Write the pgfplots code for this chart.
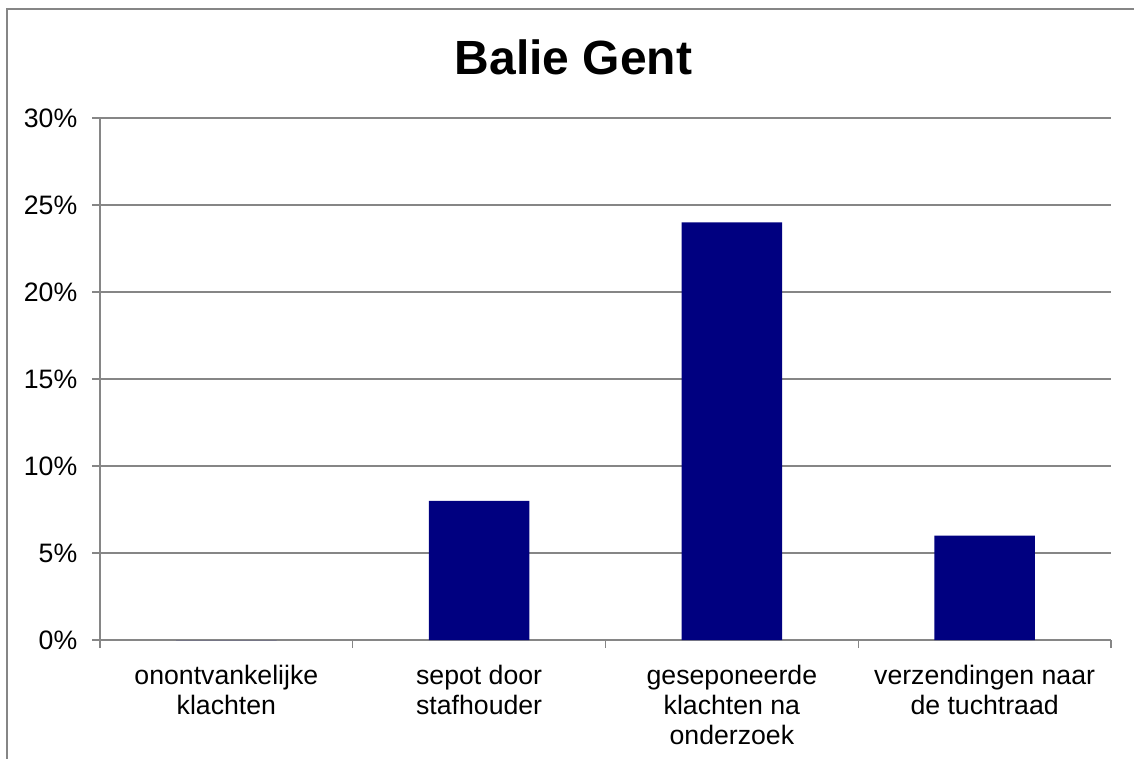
\documentclass[border=0pt]{standalone}
\usepackage{fontspec}
\setmainfont{Liberation Sans}
\usepackage{pgfplots}
\pgfplotsset{compat=1.18}
\definecolor{barnavy}{RGB}{0,0,128}
\definecolor{gridgray}{RGB}{134,134,134}
\begin{document}
\begin{tikzpicture}[x=0.375pt,y=0.375pt]
\useasboundingbox (0,0) rectangle (1134,758);
\draw[gridgray, line width=0.5pt] (7,-20) -- (7,749) -- (1160,749);
\node[font=\fontsize{18}{21}\selectfont\bfseries, anchor=base] at (573.5,683) {Balie Gent};
\begin{axis}[
    at={(37.5pt,44.25pt)}, anchor=south west,
    scale only axis,
    width=379.125pt, height=195.75pt,
    xmin=-0.5, xmax=3.5,
    ymin=0, ymax=30,
    axis x line*=bottom, axis y line*=left,
    axis line style={-, gridgray, line width=0.5pt},
    tick align=outside,
    major tick length=3pt,
    ytick={0,5,...,30},
    yticklabel={\pgfmathparse{int(\tick)}\pgfmathresult\%},
    ytick style={gridgray, line width=0.5pt},
    yticklabel style={font=\fontsize{10}{12}\selectfont, anchor=east, xshift=-2pt},
    ymajorgrids,
    grid style={gridgray, line width=0.5pt},
    xtick={0,1,2,3},
    xticklabels={{onontvankelijke\\klachten},{sepot door\\stafhouder},{geseponeerde\\klachten na\\onderzoek},{verzendingen naar\\de tuchtraad}},
    xtick style={draw=none},
    xticklabel style={font=\fontsize{10}{11.25}\selectfont, align=center, anchor=north, yshift=-3pt},
    extra x ticks={-0.5,0.5,1.5,2.5,3.5},
    extra x tick labels={},
    extra x tick style={xtick style={draw=gridgray, line width=0.5pt}},
    ybar, bar width=37.75pt,
]
\addplot[fill=barnavy, draw=none] coordinates {(0,0) (1,8) (2,24) (3,6)};
\end{axis}
\end{tikzpicture}
\end{document}
